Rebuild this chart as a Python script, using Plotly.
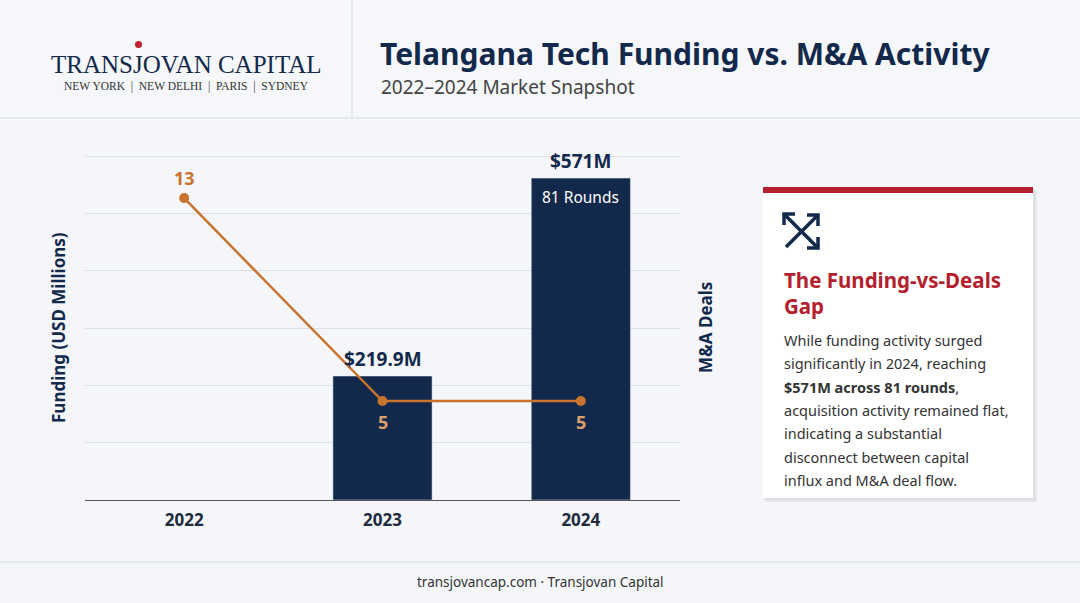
import plotly.graph_objects as go

years = ["2022", "2023", "2024"]
funding = [None, 219.9, 571]
funding_labels = ["", "$219.9M", "$571M"]
rounds = [None, None, 81]
deals = [13, 5, 5]

NAVY = "#13294b"
ORANGE = "#c8742f"
RED = "#b5202e"
BG = "#f4f6f9"
W, H = 1080, 603

xpos = list(range(len(years)))


def px(x, y):
    return x / W, 1 - y / H


fig = go.Figure()
fig.add_trace(go.Bar(x=xpos, y=funding, marker_color=NAVY, width=0.5, yaxis="y"))
fig.add_trace(go.Scatter(
    x=xpos, y=deals, yaxis="y2", mode="lines+markers",
    line=dict(color=ORANGE, width=2.5), marker=dict(size=10, color=ORANGE),
))

ann = []
for xi, v, lab, r in zip(xpos, funding, funding_labels, rounds):
    if v is None:
        continue
    ann.append(dict(x=xi, y=v, xref="x", yref="y", text=f"<b>{lab}</b>", showarrow=False,
                    yshift=17, font=dict(size=19, color=NAVY)))
    if r is not None:
        ann.append(dict(x=xi, y=v, xref="x", yref="y", text=f"{r} Rounds", showarrow=False,
                        yshift=-19, font=dict(size=15.5, color="white")))
for xi, d in zip(xpos, deals):
    if xi == 0:
        ann.append(dict(x=xi, y=d, xref="x", yref="y2", text=f"<b>{d}</b>", showarrow=False,
                        yshift=20, font=dict(size=18, color=ORANGE)))
    else:
        ann.append(dict(x=xi, y=d, xref="x", yref="y2", text=f"<b>{d}</b>", showarrow=False,
                        yshift=-21, font=dict(size=18, color="#dba06b")))


def text(x, y, s, size, color, bold=False, family="Noto Sans", anchor="left", angle=0):
    xp, yp = px(x, y)
    ann.append(dict(x=xp, y=yp, xref="paper", yref="paper", text=f"<b>{s}</b>" if bold else s,
                    showarrow=False, xanchor=anchor, yanchor="middle", textangle=angle,
                    font=dict(size=size, color=color, family=family)))


# header
text(186, 65, "TRANSJOVAN CAPITAL", 25, NAVY, family="Liberation Serif", anchor="center")
text(187, 86, "NEW YORK  |  NEW DELHI  |  PARIS  |  SYDNEY", 11.5, "#333", family="Liberation Serif", anchor="center")
text(378, 53, "Telangana Tech Funding vs. M&A Activity", 30, NAVY, bold=True)
text(379, 87, "2022–2024 Market Snapshot", 19, "#444")
text(540, 582, "transjovancap.com · Transjovan Capital", 13.5, "#333", anchor="center")

# axis titles
text(58, 328, "Funding (USD Millions)", 17, NAVY, bold=True, anchor="center", angle=-90)
text(705, 328, "M&A Deals", 17, NAVY, bold=True, anchor="center", angle=-90)

# card text
text(782, 280, "The Funding-vs-Deals", 20.5, RED, bold=True)
text(782, 306, "Gap", 20.5, RED, bold=True)
body = ["While funding activity surged", "significantly in 2024, reaching",
        "<b>$571M across 81 rounds</b>,", "acquisition activity remained flat,",
        "indicating a substantial", "disconnect between capital", "influx and M&A deal flow."]
for i, line in enumerate(body):
    text(782, 340 + i * 23.3, line, 14.5, "#333")


def rect(x0, y0, x1, y1, fill):
    a0, b0 = px(x0, y1)
    a1, b1 = px(x1, y0)
    return dict(type="rect", xref="paper", yref="paper", x0=a0, y0=b0, x1=a1, y1=b1,
                fillcolor=fill, line=dict(width=0), layer="below")


def hline(x0, x1, y, color):
    a0, b = px(x0, y)
    a1, _ = px(x1, y)
    return dict(type="line", xref="paper", yref="paper", x0=a0, x1=a1, y0=b, y1=b, line=dict(color=color, width=1))


def poly(points):
    d = "M " + " L ".join(f"{px(x, y)[0]:.5f},{px(x, y)[1]:.5f}" for x, y in points)
    return dict(type="path", xref="paper", yref="paper", path=d, line=dict(color=NAVY, width=3.5))


shapes = [
    rect(0, 0, W, 118, "#f5f7fa"),
    hline(0, W, 118, "#d9dce1"),
    dict(type="line", xref="paper", yref="paper", x0=352 / W, x1=352 / W, y0=1 - 118 / H, y1=1,
         line=dict(color="#d9dce1", width=1)),
    hline(0, W, 562, "#d9dce1"),
    rect(765, 191, 1037, 502, "rgba(0,0,0,0.05)"),
    rect(764, 189, 1035, 500, "rgba(0,0,0,0.05)"),
    rect(763, 187, 1033, 498, "white"),
    rect(763, 187, 1033, 193, RED),
    dict(type="circle", xref="paper", yref="paper", x0=135 / W, x1=142 / W, y0=1 - 48 / H, y1=1 - 41 / H,
         fillcolor="#c0202c", line=dict(width=0)),
    # icon
    poly([(786, 247), (817, 216)]),
    poly([(785, 215), (817, 247)]),
    poly([(807, 215), (818, 215), (818, 226)]),
    poly([(795, 214), (784, 214), (784, 225)]),
    poly([(807, 248), (818, 248), (818, 237)]),
]

fig.update_layout(
    width=W, height=H, margin=dict(l=0, r=0, t=0, b=0),
    paper_bgcolor=BG, plot_bgcolor=BG, showlegend=False,
    font=dict(family="Noto Sans", color=NAVY),
    xaxis=dict(domain=[85 / W, 680 / W], range=[-0.5, 2.5], showgrid=False, showline=False, zeroline=False,
               tickfont=dict(size=17, color="#1e2b40", family="Noto Sans"), ticklabelstandoff=8,
               tickvals=xpos, ticktext=[f"<b>{y}</b>" for y in years]),
    yaxis=dict(domain=[1 - 500 / H, 1 - 155 / H], range=[0, 612], dtick=610 / 6, showticklabels=False,
               gridcolor="#dcdfe4", zeroline=True, zerolinecolor="#555", zerolinewidth=1),
    yaxis2=dict(overlaying="y", range=[1.1, 14.7], showgrid=False, showticklabels=False, zeroline=False),
    annotations=ann, shapes=shapes,
)

fig.write_html("out.html", post_script="document.body.style.margin='0';",
               config={"displayModeBar": False})
